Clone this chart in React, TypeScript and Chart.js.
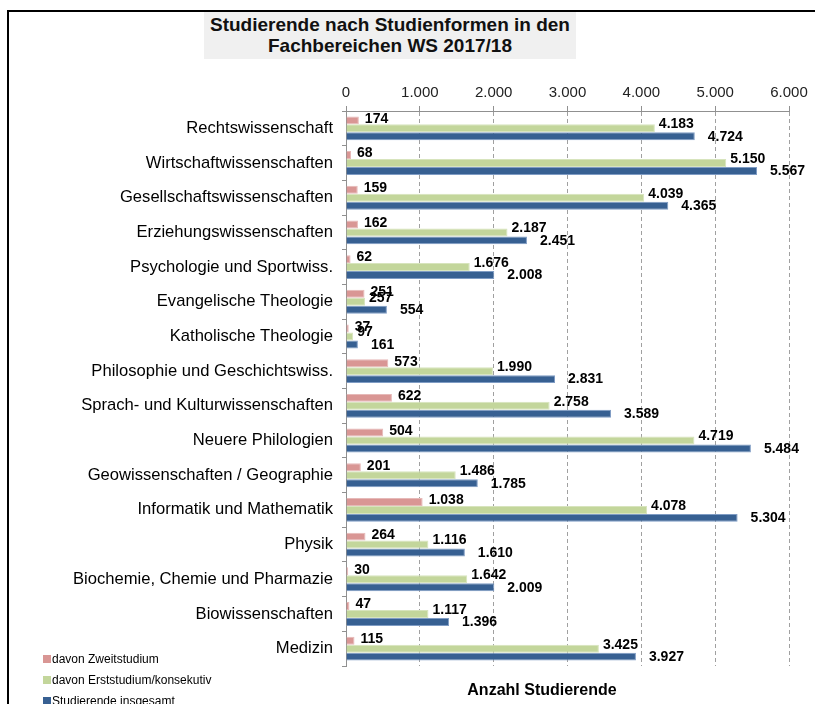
import React, { useEffect, useRef } from "react";
import { Chart, registerables } from "chart.js";

Chart.register(...registerables);

const categories = [
  "Rechtswissenschaft",
  "Wirtschaftwissenschaften",
  "Gesellschaftswissenschaften",
  "Erziehungswissenschaften",
  "Psychologie und Sportwiss.",
  "Evangelische Theologie",
  "Katholische Theologie",
  "Philosophie und Geschichtswiss.",
  "Sprach- und Kulturwissenschaften",
  "Neuere Philologien",
  "Geowissenschaften / Geographie",
  "Informatik und Mathematik",
  "Physik",
  "Biochemie, Chemie und Pharmazie",
  "Biowissenschaften",
  "Medizin",
];

const zweitstudium = [174, 68, 159, 162, 62, 251, 37, 573, 622, 504, 201, 1038, 264, 30, 47, 115];
const erststudium = [4183, 5150, 4039, 2187, 1676, 257, 97, 1990, 2758, 4719, 1486, 4078, 1116, 1642, 1117, 3425];
const insgesamt = [4724, 5567, 4365, 2451, 2008, 554, 161, 2831, 3589, 5484, 1785, 5304, 1610, 2009, 1396, 3927];

const seriesNames = ["davon Zweitstudium", "davon Erststudium/konsekutiv", "Studierende insgesamt"];
const seriesColors = ["#D99694", "#C3D69B", "#376092"];
const seriesBorders = ["#E6B9B8", "#D7E4BD", "#7F9CC4"];

const xMin = 0;
const xMax = 6000;
const xStep = 1000;

const titleLines = ["Studierende nach Studienformen in den", "Fachbereichen WS 2017/18"];
const axisTitle = "Anzahl Studierende";

const FONT = '"Liberation Sans", Arial, sans-serif';

const fmt = (n: number) => String(Math.round(n)).replace(/\B(?=(\d{3})+(?!\d))/g, ".");

const labelOffsets = [
  { dx: 6, dy: -1.5 },
  { dx: 4, dy: -4 },
  { dx: 13, dy: 0.5 },
];

const valueLabels = {
  id: "valueLabels",
  afterDatasetsDraw(chart: any) {
    const ctx = chart.ctx;
    ctx.save();
    ctx.font = `bold 14px ${FONT}`;
    ctx.fillStyle = "#000";
    ctx.textBaseline = "middle";
    ctx.textAlign = "left";
    chart.data.datasets.forEach((ds: any, di: number) => {
      const meta = chart.getDatasetMeta(di);
      const off = labelOffsets[di];
      meta.data.forEach((bar: any, i: number) => {
        ctx.fillText(fmt(ds.data[i]), bar.x + off.dx, bar.y + off.dy);
      });
    });
    ctx.restore();
  },
};

export default function App() {
  const canvasRef = useRef<HTMLCanvasElement | null>(null);

  useEffect(() => {
    if (!canvasRef.current) return;
    const chart = new Chart(canvasRef.current, {
      type: "bar",
      data: {
        labels: categories,
        datasets: [zweitstudium, erststudium, insgesamt].map((d, i) => ({
          label: seriesNames[i],
          data: d,
          backgroundColor: seriesColors[i],
          borderColor: seriesBorders[i],
          borderWidth: 1,
          categoryPercentage: 0.69,
          barPercentage: 1.0,
        })),
      },
      options: {
        indexAxis: "y",
        animation: false,
        responsive: false,
        maintainAspectRatio: false,
        devicePixelRatio: 1,
        layout: { padding: { left: 0, top: 0, right: 26, bottom: 38 } },
        plugins: {
          legend: { display: false },
          title: { display: false },
          tooltip: { enabled: false },
        },
        scales: {
          x: {
            position: "top",
            min: xMin,
            max: xMax,
            ticks: {
              stepSize: xStep,
              color: "#222",
              font: { family: FONT, size: 15 },
              padding: 4,
              callback: (v: any) => fmt(Number(v)),
            },
            grid: {
              color: "#A0A0A0",
              lineWidth: 1,
              drawTicks: true,
              tickLength: 5,
              tickColor: "#909090",
              tickBorderDash: [],
            },
            border: { display: true, color: "#909090", width: 1, dash: [4, 3] },
            afterFit: (scale: any) => {
              scale.height = 111;
            },
          },
          y: {
            ticks: {
              color: "#000",
              font: { family: FONT, size: 16.6 },
              padding: 9,
            },
            grid: {
              drawOnChartArea: false,
              drawTicks: true,
              tickLength: 4,
              tickColor: "#909090",
            },
            border: { display: true, color: "#909090", width: 1 },
            afterFit: (scale: any) => {
              scale.width = 346;
            },
          },
        },
      },
      plugins: [valueLabels],
    });
    return () => chart.destroy();
  }, []);

  return (
    <div
      style={{
        position: "absolute",
        left: 0,
        top: 0,
        width: 815,
        height: 704,
        overflow: "hidden",
        background: "#fff",
        fontFamily: FONT,
      }}
    >
      <div
        style={{
          position: "absolute",
          left: 7,
          top: 10,
          width: 900,
          height: 900,
          borderLeft: "2px solid #000",
          borderTop: "2px solid #000",
        }}
      />
      <div
        style={{
          position: "absolute",
          left: 204,
          top: 12,
          width: 372,
          height: 47,
          boxSizing: "border-box",
          paddingTop: 2,
          background: "#F0F0F0",
          textAlign: "center",
          fontWeight: "bold",
          fontSize: 19,
          lineHeight: "21px",
          color: "#111",
        }}
      >
        {titleLines.map((t, i) => (
          <div key={i}>{t}</div>
        ))}
      </div>
      <canvas
        ref={canvasRef}
        width={815}
        height={704}
        style={{ position: "absolute", left: 0, top: 0, width: 815, height: 704 }}
      />
      <div
        style={{
          position: "absolute",
          left: 442,
          top: 680,
          width: 200,
          textAlign: "center",
          fontWeight: "bold",
          fontSize: 16,
          lineHeight: "20px",
          color: "#000",
        }}
      >
        {axisTitle}
      </div>
      <div style={{ position: "absolute", left: 43, top: 648, fontSize: 12, color: "#000" }}>
        {seriesNames.map((n, i) => (
          <div key={i} style={{ display: "flex", alignItems: "center", height: 21 }}>
            <span
              style={{
                display: "inline-block",
                width: 8,
                height: 8,
                background: seriesColors[i],
                marginRight: 1,
              }}
            />
            <span>{n}</span>
          </div>
        ))}
      </div>
    </div>
  );
}
